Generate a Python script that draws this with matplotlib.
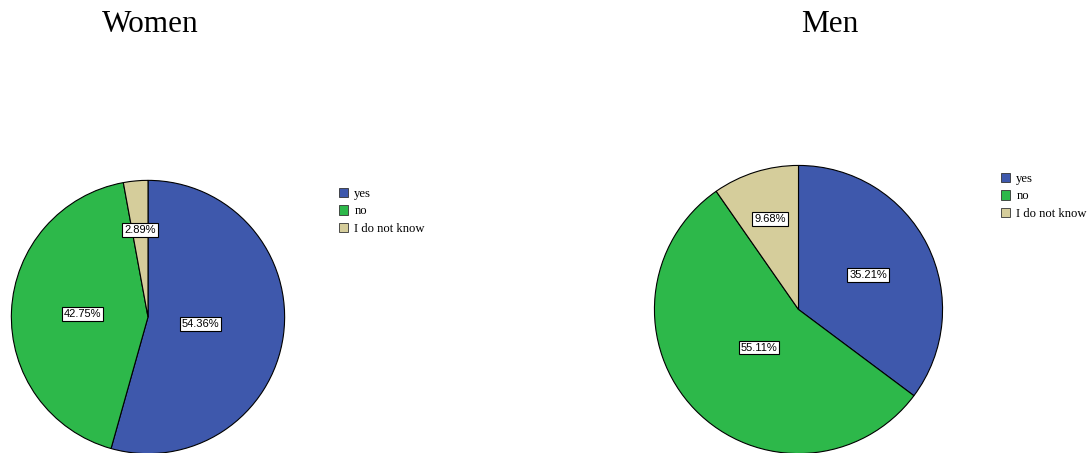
import numpy as np
import matplotlib.pyplot as plt
from matplotlib.patches import Patch

# -------------------------------------------------------------------------
# Survey answers (percent)
# -------------------------------------------------------------------------
answers = ["yes", "no", "I do not know"]
women = [54.36, 42.75, 2.89]
men = [35.21, 55.11, 9.68]

colors = ["#3e58ac", "#2db84a", "#d5cd9b"]

# radial position of each value label (fraction of the radius)
women_lbl_r = [0.39, 0.48, 0.64]
men_lbl_r = [0.54, 0.38, 0.66]

W, H = 1089, 453


def px_axes(fig, x0, y0, w, h):
    # x0, y0 in pixels from top-left
    return fig.add_axes([x0 / W, (H - y0 - h) / H, w / W, h / H])


def draw_pie(ax, values, lbl_r):
    wedges, _ = ax.pie(values, colors=colors, startangle=90, counterclock=False,
                       wedgeprops=dict(edgecolor="black", linewidth=0.8))
    for w, v, r in zip(wedges, values, lbl_r):
        ang = np.deg2rad((w.theta1 + w.theta2) / 2.0)
        ax.text(r * np.cos(ang), r * np.sin(ang), "%.2f%%" % v,
                ha="center", va="center", fontsize=8, family="Liberation Sans",
                bbox=dict(boxstyle="square,pad=0.17", facecolor="white",
                          edgecolor="black", linewidth=0.8))
    ax.set_xlim(-1.01, 1.01)
    ax.set_ylim(-1.01, 1.01)
    ax.set_aspect("equal")
    ax.axis("off")


fig = plt.figure(figsize=(W / 100, H / 100), dpi=100)

ax1 = px_axes(fig, 10, 179, 276, 276)
draw_pie(ax1, women, women_lbl_r)

ax2 = px_axes(fig, 653, 164, 291, 291)
draw_pie(ax2, men, men_lbl_r)

fig.text(150 / W, 1 - 25 / H, "Women", ha="center", va="center",
         fontsize=22.5, family="Liberation Serif")
fig.text(830 / W, 1 - 25 / H, "Men", ha="center", va="center",
         fontsize=22.5, family="Liberation Serif")

handles = [Patch(facecolor=c, edgecolor="#333333", linewidth=0.6) for c in colors]
for lx, ly in [(336, 185), (998, 170)]:
    fig.legend(handles, answers, loc="upper left",
               bbox_to_anchor=(lx / W, 1 - ly / H), frameon=False,
               prop=dict(family="Liberation Serif", size=9.1),
               handlelength=0.75, handleheight=0.75, handletextpad=0.5,
               labelspacing=0.45, borderpad=0.2, borderaxespad=0)

fig.savefig("out.png", dpi=100)
